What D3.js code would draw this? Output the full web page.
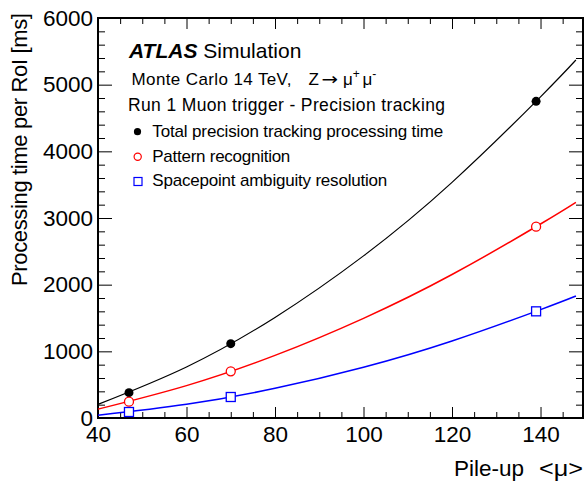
<!DOCTYPE html>
<html>
    <head>
        <meta charset="UTF-8">
        <script src="https://d3js.org/d3.v7.min.js"></script>
        <style>
            body { margin: 0; background: white; }
            text { font-family: "Liberation Sans", Arial, sans-serif; fill: black; }
        </style>
    </head>

    <body>

        <svg id="canvas"></svg>

        <script>

            width = 586;
            height = 485;

            // measured points (pile-up <mu>, time in ms)
            mu = [47, 70, 139];
            totalTime = [380, 1115, 4750];
            patternTime = [245, 700, 2870];
            spacepointTime = [90, 315, 1600];

            // fitted curves
            fitMu = [40, 60, 80, 100, 120, 140, 148];
            totalFit = [205, 766, 1509, 2432, 3535, 4818, 5370];
            patternFit = [133, 486, 939, 1495, 2152, 2910, 3235];
            spacepointFit = [42, 205, 445, 761, 1155, 1626, 1830];

            xTicks = [40, 60, 80, 100, 120, 140];
            yTicks = [0, 1000, 2000, 3000, 4000, 5000, 6000];

            plotL = 98; plotR = 583; plotT = 18; plotB = 418;

            canvas = d3.select("#canvas")
                .attr("width", width)
                .attr("height", height);

            xscale = d3.scaleLinear().domain([40, 149.6]).range([plotL, plotR]);
            yscale = d3.scaleLinear().domain([0, 6000]).range([plotB, plotT]);

            xMinor = d3.range(40, 150, 5).filter(v => v % 20 != 0);
            yMinor = d3.range(0, 6001, 200).filter(v => v % 1000 != 0);

            function axisGroup(axis, tx, ty) {
                var g = canvas.append("g")
                    .attr("transform", "translate(" + tx + "," + ty + ")")
                    .call(axis);
                g.select(".domain").remove();
                g.selectAll("line").attr("stroke", "black").attr("stroke-width", 1);
                return g;
            }

            // bottom
            axisGroup(d3.axisBottom(xscale).tickValues(xMinor).tickSize(-6).tickFormat(""), 0, plotB);
            axisGroup(d3.axisBottom(xscale).tickValues(xTicks).tickSize(-11).tickPadding(8).tickFormat(d3.format("d")), 0, plotB);
            // top
            axisGroup(d3.axisTop(xscale).tickValues(xMinor).tickSize(-6).tickFormat(""), 0, plotT);
            axisGroup(d3.axisTop(xscale).tickValues(xTicks).tickSize(-11).tickFormat(""), 0, plotT);
            // left
            axisGroup(d3.axisLeft(yscale).tickValues(yMinor).tickSize(-7).tickFormat(""), plotL, 0);
            axisGroup(d3.axisLeft(yscale).tickValues(yTicks).tickSize(-14).tickPadding(5).tickFormat(d3.format("d")), plotL, 0);
            // right
            axisGroup(d3.axisRight(yscale).tickValues(yMinor).tickSize(-7).tickFormat(""), plotR, 0);
            axisGroup(d3.axisRight(yscale).tickValues(yTicks).tickSize(-14).tickFormat(""), plotR, 0);
            canvas.selectAll("g").attr("font-family", null).attr("font-size", null);
            canvas.selectAll("g text").attr("font-size", 22.5);

            canvas.append("rect")
                .attr("x", plotL).attr("y", plotT)
                .attr("width", plotR - plotL).attr("height", plotB - plotT)
                .attr("style", "fill:none; stroke:black; stroke-width:2;");

            // fit curves
            line = d3.line()
                .x((d, i) => xscale(fitMu[i]))
                .y(d => yscale(d))
                .curve(d3.curveNatural);

            curves = [
                [totalFit, "black", 1.2],
                [patternFit, "#ff0000", 1.5],
                [spacepointFit, "#0000ff", 1.5]
            ];
            curves.forEach(c => {
                canvas.append("path")
                    .attr("d", line(c[0]))
                    .attr("style", "fill:none; stroke:" + c[1] + "; stroke-width:" + c[2] + ";");
            });

            // markers
            canvas.selectAll(".tot").data(totalTime).enter().append("circle")
                .attr("cx", (d, i) => xscale(mu[i])).attr("cy", d => yscale(d))
                .attr("r", 4.5).attr("fill", "black");

            canvas.selectAll(".pat").data(patternTime).enter().append("circle")
                .attr("cx", (d, i) => xscale(mu[i])).attr("cy", d => yscale(d))
                .attr("r", 4.5).attr("fill", "white").attr("stroke", "#ff0000").attr("stroke-width", 1.3);

            canvas.selectAll(".spa").data(spacepointTime).enter().append("rect")
                .attr("x", (d, i) => xscale(mu[i]) - 4.5).attr("y", d => yscale(d) - 4.5)
                .attr("width", 9).attr("height", 9)
                .attr("fill", "white").attr("stroke", "#0000ff").attr("stroke-width", 1.3);

            // axis titles
            canvas.append("text")
                .attr("transform", "translate(27,13) rotate(-90)")
                .attr("text-anchor", "end")
                .attr("font-size", 22)
                .attr("textLength", 273).attr("lengthAdjust", "spacing")
                .text("Processing time per RoI [ms]");

            canvas.append("text")
                .attr("x", 454).attr("y", 476)
                .attr("font-size", 22.5)
                .attr("textLength", 70).attr("lengthAdjust", "spacing")
                .text("Pile-up");
            canvas.append("text")
                .attr("x", 539).attr("y", 476)
                .attr("font-size", 22.5)
                .attr("textLength", 44).attr("lengthAdjust", "spacingAndGlyphs")
                .text("<\u03bc>");

            // labels
            atlas = canvas.append("text").attr("x", 129).attr("y", 58).attr("font-size", 21);
            atlas.append("tspan").attr("font-weight", "bold").attr("font-style", "italic").text("ATLAS");
            atlas.append("tspan").text(" Simulation");

            mc = canvas.append("text").attr("x", 131.5).attr("y", 84.5).attr("font-size", 17);
            mc.append("tspan").attr("textLength", 160).attr("lengthAdjust", "spacing").text("Monte Carlo 14 TeV,");
            mc.append("tspan").attr("x", 308.5).text("Z");
            mc.append("tspan").attr("x", 321.5).attr("font-family", "DejaVu Sans")
                .attr("textLength", 16.5).attr("lengthAdjust", "spacingAndGlyphs").text("\u2192");
            mc.append("tspan").attr("x", 343).text("\u03bc");
            mc.append("tspan").attr("font-size", 12).attr("dy", -7).text("+");
            mc.append("tspan").attr("x", 362.5).attr("dy", 7).text("\u03bc");
            mc.append("tspan").attr("font-size", 12).attr("dy", -7).text("-");

            canvas.append("text").attr("x", 128).attr("y", 110.7).attr("font-size", 17.5)
                .attr("textLength", 317).attr("lengthAdjust", "spacing")
                .text("Run 1 Muon trigger - Precision tracking");

            legendNames = ["Total precision tracking processing time", "Pattern recognition", "Spacepoint ambiguity resolution"];
            legendWidths = [291, 138, 235];
            legendY = [131.7, 156.7, 181.5];

            canvas.append("circle").attr("cx", 137.5).attr("cy", legendY[0]).attr("r", 3.6).attr("fill", "black");
            canvas.append("circle").attr("cx", 137.7).attr("cy", legendY[1]).attr("r", 3.6)
                .attr("fill", "white").attr("stroke", "#ff0000").attr("stroke-width", 1.2);
            canvas.append("rect").attr("x", 134).attr("y", legendY[2] - 4).attr("width", 8).attr("height", 8)
                .attr("fill", "white").attr("stroke", "#0000ff").attr("stroke-width", 1.2);

            canvas.selectAll(".leg").data(legendNames).enter().append("text")
                .attr("x", 152.3).attr("y", (d, i) => legendY[i] + 4.8)
                .attr("font-size", 17)
                .attr("textLength", (d, i) => legendWidths[i]).attr("lengthAdjust", "spacing")
                .text(d => d);

        </script>

    </body>

</html>
